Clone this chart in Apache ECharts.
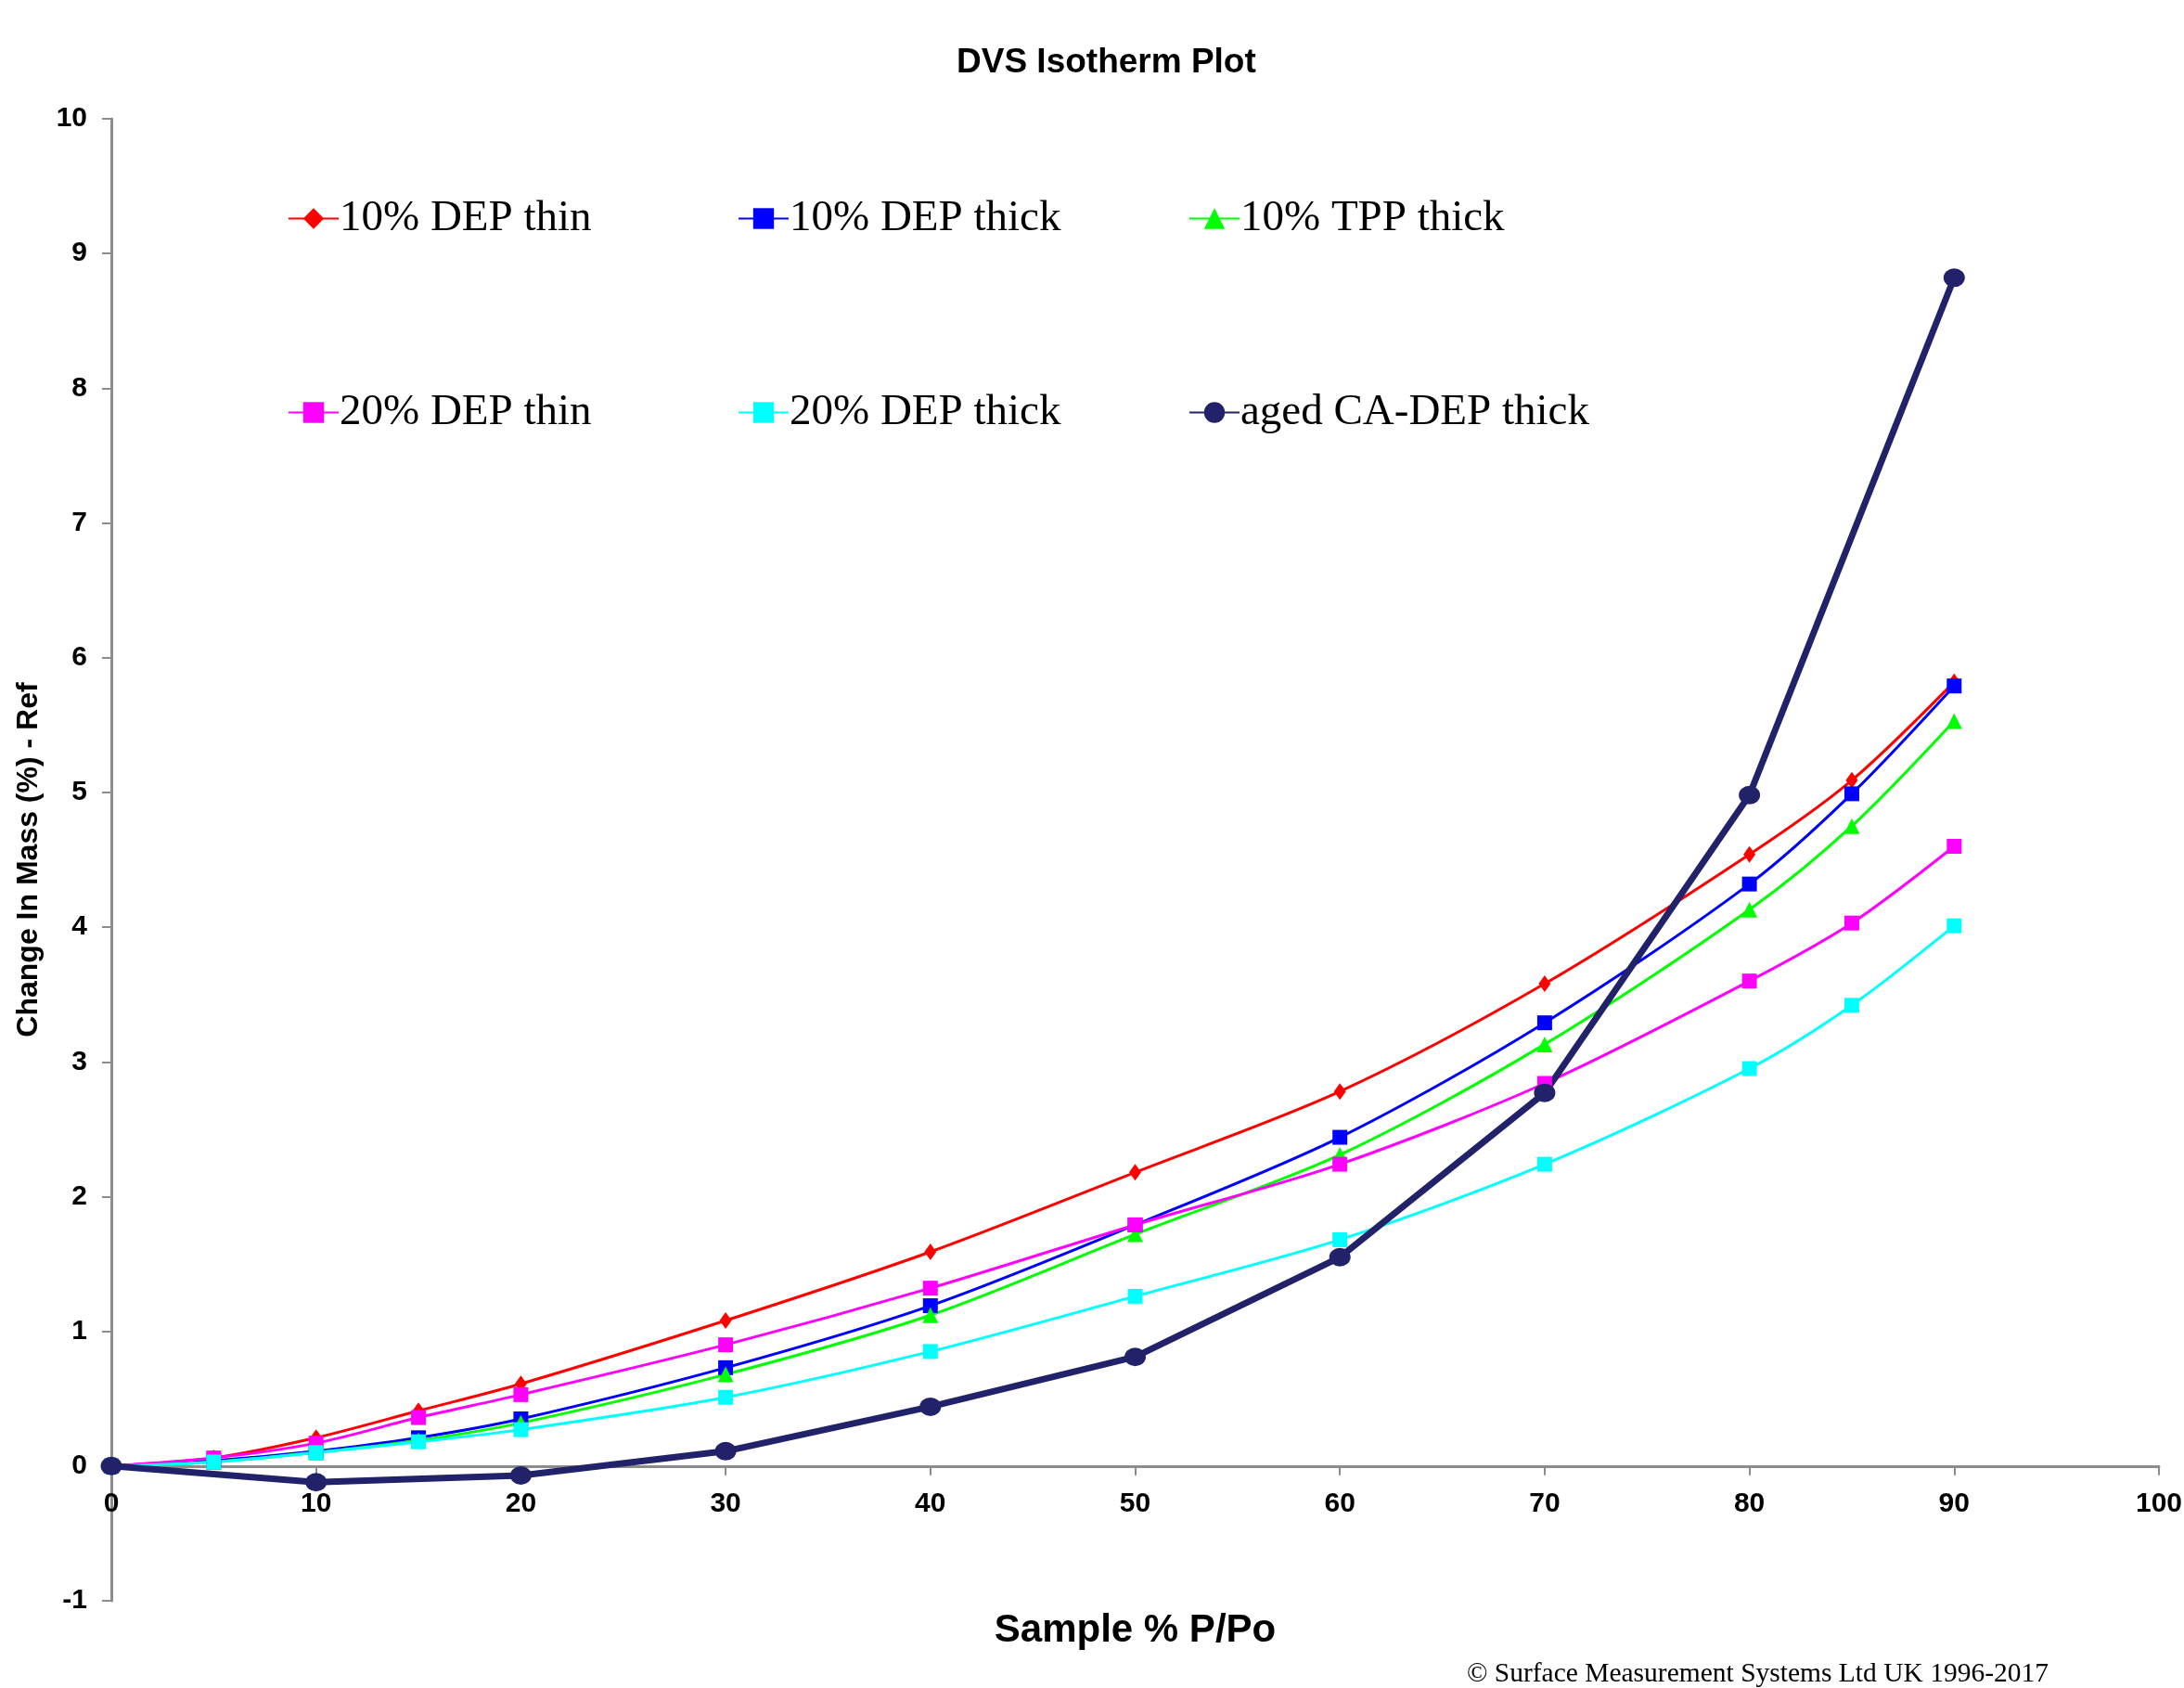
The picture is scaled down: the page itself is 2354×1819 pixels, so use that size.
<!DOCTYPE html>
<html>
<head>
<meta charset="utf-8">
<script src="https://cdn.jsdelivr.net/npm/echarts@6/dist/echarts.min.js"></script>
<style>
html,body{margin:0;padding:0;background:#fff;}
#chart{width:2354px;height:1819px;}
</style>
</head>
<body>
<div id="chart"></div>
<script>
// ---- data ----
const xSteps = [0, 5, 10, 15, 20, 30, 40, 50, 60, 70, 80, 85, 90];
const xAged = [0, 10, 20, 30, 40, 50, 60, 70, 80, 90];
const dep10Thin  = [0, 0.06, 0.21, 0.41, 0.61, 1.08, 1.59, 2.18, 2.78, 3.58, 4.54, 5.09, 5.82];
const dep10Thick = [0, 0.04, 0.11, 0.21, 0.35, 0.73, 1.19, 1.79, 2.44, 3.29, 4.32, 4.99, 5.79];
const tpp10Thick = [0, 0.03, 0.10, 0.19, 0.32, 0.68, 1.12, 1.72, 2.31, 3.13, 4.13, 4.75, 5.53];
const dep20Thin  = [0, 0.06, 0.17, 0.36, 0.53, 0.90, 1.32, 1.79, 2.24, 2.84, 3.60, 4.03, 4.60];
const dep20Thick = [0, 0.03, 0.10, 0.18, 0.27, 0.51, 0.85, 1.26, 1.68, 2.24, 2.95, 3.42, 4.01];
const agedThick  = [0, -0.12, -0.07, 0.11, 0.44, 0.81, 1.55, 2.77, 4.98, 8.82];
const seriesNames = ['10% DEP thin', '10% DEP thick', '10% TPP thick', '20% DEP thin', '20% DEP thick', 'aged CA-DEP thick'];
const xTicks = [0, 10, 20, 30, 40, 50, 60, 70, 80, 90, 100];
const yTicks = [-1, 0, 1, 2, 3, 4, 5, 6, 7, 8, 9, 10];
const yMin = -1, yMax = 10;

const pair = (xs, ys) => xs.map((x, i) => [x, ys[i]]);

const W = 2354, H = 1819;
const gridTop = 128, gridBottom = 94, gridLeft = 120, gridRight = 27;
const plotH = H - gridTop - gridBottom;
// move the x axis (line, ticks and labels) up to y = 0
const xAxisOffset = -plotH * (0 - yMin) / (yMax - yMin);

const chart = echarts.init(document.getElementById('chart'));
const sans = 'Liberation Sans, Arial, sans-serif';
const serif = 'Liberation Serif, Times New Roman, serif';

function lineSeries(name, data, color, symbol, size, smooth, width) {
  return {
    name: name, type: 'line', data: data, smooth: smooth,
    symbol: symbol, symbolSize: size, showSymbol: true,
    lineStyle: {color: color, width: width},
    itemStyle: {color: color, borderWidth: 0},
    emphasis: {disabled: true},
    z: 3
  };
}

const legendPos = [[305, 207], [790, 207], [1276, 207], [305, 416], [790, 416], [1276, 416]];
const legends = seriesNames.map((n, i) => ({
  data: [n], left: legendPos[i][0], top: legendPos[i][1],
  itemWidth: 54, itemHeight: 28, itemGap: 0,
  textStyle: {fontFamily: serif, fontSize: 47, color: '#000', padding: [0, 0, 0, -4]},
  selectedMode: false
}));

chart.setOption({
  backgroundColor: '#fff',
  animation: false,
  title: {
    text: 'DVS Isotherm Plot', left: 1026, top: 44,
    textStyle: {fontFamily: sans, fontSize: 37, fontWeight: 'bold', color: '#000'}
  },
  legend: legends,
  grid: {left: gridLeft, right: gridRight, top: gridTop, bottom: gridBottom, containLabel: false, outerBoundsMode: 'none'},
  xAxis: {
    type: 'value', min: 0, max: 100, interval: 10,
    offset: xAxisOffset,
    name: 'Sample % P/Po', nameLocation: 'middle', nameGap: 157,
    nameTextStyle: {fontFamily: sans, fontSize: 42, fontWeight: 'bold', color: '#000'},
    axisLine: {onZero: false, lineStyle: {color: '#8c8c8c', width: 3}},
    axisTick: {show: true, length: 10, lineStyle: {color: '#8c8c8c', width: 2}},
    axisLabel: {fontFamily: sans, fontSize: 30, fontWeight: 'bold', color: '#000', margin: 26,
      formatter: v => xTicks.includes(v) ? String(v) : ''},
    splitLine: {show: false}
  },
  yAxis: {
    type: 'value', min: yMin, max: yMax, interval: 1,
    name: 'Change In Mass (%) - Ref', nameLocation: 'middle', nameGap: 73, nameRotate: 90,
    nameTextStyle: {fontFamily: sans, fontSize: 32, fontWeight: 'bold', color: '#000'},
    axisLine: {onZero: false, lineStyle: {color: '#8c8c8c', width: 3}},
    axisTick: {show: true, length: 10, lineStyle: {color: '#8c8c8c', width: 2}},
    axisLabel: {fontFamily: sans, fontSize: 30, fontWeight: 'bold', color: '#000', margin: 26,
      formatter: v => yTicks.includes(v) ? String(v) : ''},
    splitLine: {show: false}
  },
  graphic: [{
    type: 'text', right: 146, top: 1789,
    style: {text: '© Surface Measurement Systems Ltd UK 1996-2017', font: '29.5px ' + serif, fill: '#000'}
  }],
  series: [
    lineSeries(seriesNames[0], pair(xSteps, dep10Thin), '#ff0000', 'diamond', [13, 18], 0.3, 3),
    lineSeries(seriesNames[1], pair(xSteps, dep10Thick), '#0000ff', 'rect', 16, 0.3, 3),
    lineSeries(seriesNames[2], pair(xSteps, tpp10Thick), '#00ff00', 'triangle', 17, 0.3, 3),
    lineSeries(seriesNames[3], pair(xSteps, dep20Thin), '#ff00ff', 'rect', 16, 0.3, 3),
    lineSeries(seriesNames[4], pair(xSteps, dep20Thick), '#00ffff', 'rect', 16, 0.3, 3),
    lineSeries(seriesNames[5], pair(xAged, agedThick), '#22226b', 'circle', [23, 20], false, 7)
  ]
});
</script>
</body>
</html>
